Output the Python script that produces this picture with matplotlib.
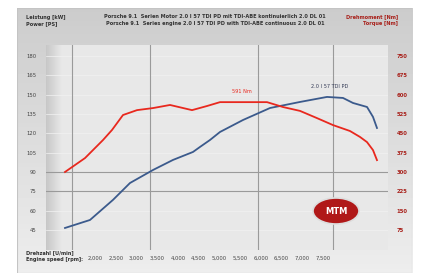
import matplotlib.pyplot as plt
from matplotlib.patches import Rectangle, Ellipse
import numpy as np

# Drehzahl [U/min]
rpm_kw = [1276, 1879, 2434, 2844, 3399, 3881, 4364, 4533, 4774, 5015, 5570,
          6221, 6945, 7596, 7982, 8223, 8561, 8705, 8801]
# Leistung [kW]
power_kw = [46.5, 52.7, 68.3, 81.4, 91.5, 99.3, 105.5, 109.4, 114.8, 121.0, 130.3,
            139.6, 144.3, 148.2, 147.4, 143.5, 140.4, 132.7, 124.1]

rpm_nm = [1276, 1759, 2193, 2410, 2675, 3013, 3399, 3809, 4340, 4702, 5015, 5497,
          6149, 6535, 6945, 7355, 7740, 8150, 8391, 8560, 8705, 8801]
# Drehmoment [Nm]
torque_nm = [300, 354, 424, 463, 521, 540, 548, 560, 540, 556, 571, 571,
             571, 552, 537, 509, 482, 459, 436, 416, 385, 346]

x_ticks = [2000, 2500, 3000, 3500, 4000, 4500, 5000, 5500, 6000, 6500, 7000, 7500]
x_labels = ['2,000', '2,500', '3,000', '3,500', '4,000', '4,500', '5,000',
            '5,500', '6,000', '6,500', '7,000', '7,500']
left_ticks = [45, 60, 75, 90, 105, 120, 135, 150, 165, 180]
right_ticks = [75, 150, 225, 300, 375, 450, 525, 600, 675, 750]

vgrid = [1445, 3327, 5931, 7741]
hgrid = [75, 90]

blue = '#3b5a8c'
red = '#e8281e'
dark_red = '#a8201a'

fig = plt.figure(figsize=(4.23, 2.73), dpi=100)
fig.patch.set_facecolor('white')

# Hintergrundkarte
bg = fig.add_axes([17 / 423, 0, 395 / 423, 1 - 8 / 273], zorder=-1)
bg.axis('off')
bgrad = np.linspace(0.80, 0.93, 60).reshape(-1, 1)
bg.imshow(bgrad, extent=(0, 1, 0, 1), aspect='auto', cmap='gray', vmin=0, vmax=1)
bg.add_patch(Rectangle((0, 0), 1, 1, fill=False, edgecolor='#c4c4c4', lw=0.8))
bg.set_xlim(0, 1)
bg.set_ylim(0, 1)

ax = fig.add_axes([46 / 423, 1 - 250 / 273, 342 / 423, 205 / 273])
ax.set_facecolor('#e8e8e8')
ax.set_xlim(818, 9067)
ax.set_ylim(29.4, 188.5)

# leichter Verlauf am linken Rand
grad = np.linspace(0.78, 0.91, 40).reshape(1, -1)
ax.imshow(grad, extent=(818, 1200, 29.4, 188.5), aspect='auto', cmap='gray',
          vmin=0, vmax=1, zorder=0.5)
ax.set_xlim(818, 9067)
ax.set_ylim(29.4, 188.5)

for v in vgrid:
    ax.axvline(v, color='#9a9a9a', lw=0.8, zorder=1)
for h in hgrid:
    ax.axhline(h, color='#9a9a9a', lw=0.8, zorder=1)
for h in left_ticks:
    ax.axhline(h, color='#f2f2f2', lw=0.5, zorder=0.8)

ax.plot(rpm_kw, power_kw, color=blue, lw=1.3, zorder=3)

ax2 = ax.twinx()
ax2.set_ylim(-2.7, 792.7)
ax2.plot(rpm_nm, torque_nm, color=red, lw=1.3, zorder=3)

ax.text(7668, 154.4, '2.0 l 57 TDI PD', color='#333a55', fontsize=3.6,
        ha='center', va='bottom')
ax2.text(5545, 603, '591 Nm', color=red, fontsize=3.6, ha='center', va='bottom')

for a in (ax, ax2):
    for s in a.spines.values():
        s.set_visible(False)

ax.set_xticks(x_ticks)
ax.set_xticklabels(x_labels)
ax.set_yticks(left_ticks)
ax2.set_yticks(right_ticks)
ax.tick_params(axis='x', length=0, labelsize=3.8, colors='#444444', pad=4)
ax.tick_params(axis='y', length=0, labelsize=3.8, colors='#444444', pad=7)
ax2.tick_params(axis='y', length=0, labelsize=3.8, colors=dark_red, pad=6)
for lab in ax2.get_yticklabels():
    lab.set_fontweight('bold')

# Logo
logo = Ellipse((336 / 423, 1 - 211 / 273), 46 / 423, 26 / 273, transform=fig.transFigure,
               facecolor='#b01818', edgecolor='#dddddd', lw=1.2, zorder=5)
fig.add_artist(logo)
fig.text(336 / 423, 1 - 211 / 273, 'MTM', color='white', fontsize=6, fontweight='bold',
         ha='center', va='center', zorder=6)

# Kopfzeile
fig.text(26 / 423, 1 - 17 / 273, 'Leistung [kW]', fontsize=3.6, fontweight='bold',
         color='#333333', va='center')
fig.text(26 / 423, 1 - 24 / 273, 'Power [PS]', fontsize=3.6, fontweight='bold',
         color='#333333', va='center')
fig.text(215 / 423, 1 - 17 / 273,
         'Porsche 9.1  Serien Motor 2.0 l 57 TDI PD mit TDI-ABE kontinuierlich 2.0 DL 01',
         fontsize=3.6, fontweight='bold', color='#333333', ha='center', va='center')
fig.text(215 / 423, 1 - 24 / 273,
         'Porsche 9.1  Series engine 2.0 l 57 TDI PD with TDI-ABE continuous 2.0 DL 01',
         fontsize=3.6, fontweight='bold', color='#333333', ha='center', va='center')
fig.text(398 / 423, 1 - 17 / 273, 'Drehmoment [Nm]', fontsize=3.6, fontweight='bold',
         color=dark_red, ha='right', va='center')
fig.text(398 / 423, 1 - 24 / 273, 'Torque [Nm]', fontsize=3.6, fontweight='bold',
         color=dark_red, ha='right', va='center')

# Fußzeile
fig.text(26 / 423, 1 - 253 / 273, 'Drehzahl [U/min]', fontsize=3.6, fontweight='bold',
         color='#333333', va='center')
fig.text(26 / 423, 1 - 259 / 273, 'Engine speed [rpm]:', fontsize=3.6, fontweight='bold',
         color='#333333', va='center')

fig.savefig('out.png', dpi=100)
